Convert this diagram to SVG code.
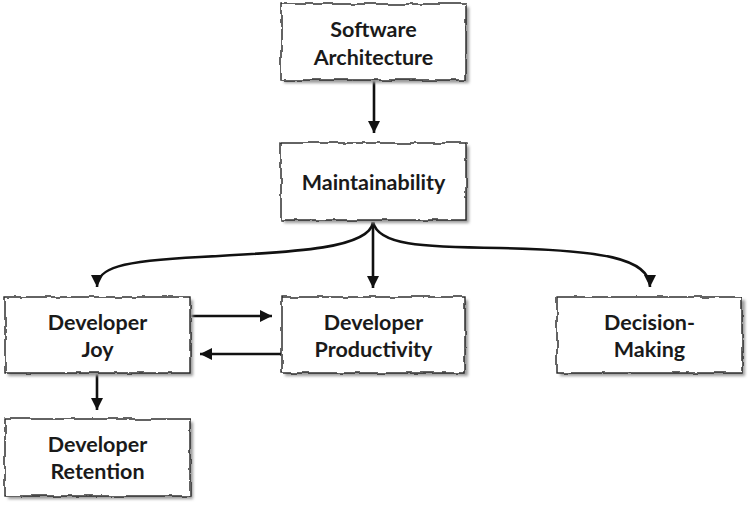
<svg xmlns="http://www.w3.org/2000/svg" width="750" height="506" viewBox="0 0 750 506">
<style>
.box{fill:#fff;stroke:#222;stroke-width:1.4;filter:url(#rough)}
.sh{fill:#9a9a9a;filter:url(#blur)}
.t{font-family:Lato,"Open Sans","Liberation Sans",sans-serif;font-weight:bold;font-size:21.5px;fill:#1a1a1a;text-anchor:middle}
.c{fill:none;stroke:#111;stroke-width:2.6}
</style>
<defs>
<filter id="rough" x="-5%" y="-10%" width="110%" height="120%">
<feTurbulence type="fractalNoise" baseFrequency="0.08" numOctaves="2" seed="3" result="n"/>
<feDisplacementMap in="SourceGraphic" in2="n" scale="4" xChannelSelector="R" yChannelSelector="G"/>
</filter>
<filter id="blur" x="-10%" y="-10%" width="120%" height="130%">
<feGaussianBlur stdDeviation="1.5"/>
</filter>
<marker id="ah" markerUnits="userSpaceOnUse" markerWidth="12" markerHeight="13" refX="12" refY="6.5" orient="auto">
<path d="M0,0.5 L12,6.5 L0,12.5 z" fill="#111"/>
</marker>
</defs>
<g id="connectors">
<path class="c" d="M374,80 L374,133" marker-end="url(#ah)"/>
<path class="c" d="M373,222 L373,288" marker-end="url(#ah)"/>
<path class="c" d="M373,222 C370,248 300,252 200,257 C120,261 97,268 97,287" marker-end="url(#ah)"/>
<path class="c" d="M373,222 C378,245 420,247 500,248 C600,250 650,258 650,287" marker-end="url(#ah)"/>
<path class="c" d="M190,316 L272,316" marker-end="url(#ah)"/>
<path class="c" d="M281,354 L200,354" marker-end="url(#ah)"/>
<path class="c" d="M97,373 L97,410" marker-end="url(#ah)"/>
</g>
<g id="software-architecture">
<rect class="sh" x="284" y="7" width="185" height="76"/>
<rect class="box" x="281" y="4" width="185" height="76"/>
<text class="t" x="373.5" y="37">Software</text>
<text class="t" x="373.5" y="65">Architecture</text>
</g>
<g id="maintainability">
<rect class="sh" x="284" y="146" width="185" height="77"/>
<rect class="box" x="281" y="143" width="185" height="77"/>
<text class="t" x="373.5" y="190">Maintainability</text>
</g>
<g id="developer-joy">
<rect class="sh" x="8" y="300" width="185" height="76"/>
<rect class="box" x="5" y="297" width="185" height="76"/>
<text class="t" x="97.5" y="330">Developer</text>
<text class="t" x="97.5" y="357">Joy</text>
</g>
<g id="developer-productivity">
<rect class="sh" x="285" y="300" width="183" height="76"/>
<rect class="box" x="282" y="297" width="183" height="76"/>
<text class="t" x="373.5" y="330">Developer</text>
<text class="t" x="373.5" y="357">Productivity</text>
</g>
<g id="decision-making">
<rect class="sh" x="560" y="300" width="185" height="76"/>
<rect class="box" x="557" y="297" width="185" height="76"/>
<text class="t" x="649.5" y="330">Decision-</text>
<text class="t" x="649.5" y="357">Making</text>
</g>
<g id="developer-retention">
<rect class="sh" x="8" y="422" width="185" height="77"/>
<rect class="box" x="5" y="419" width="185" height="77"/>
<text class="t" x="97.5" y="452">Developer</text>
<text class="t" x="97.5" y="479">Retention</text>
</g>
</svg>
